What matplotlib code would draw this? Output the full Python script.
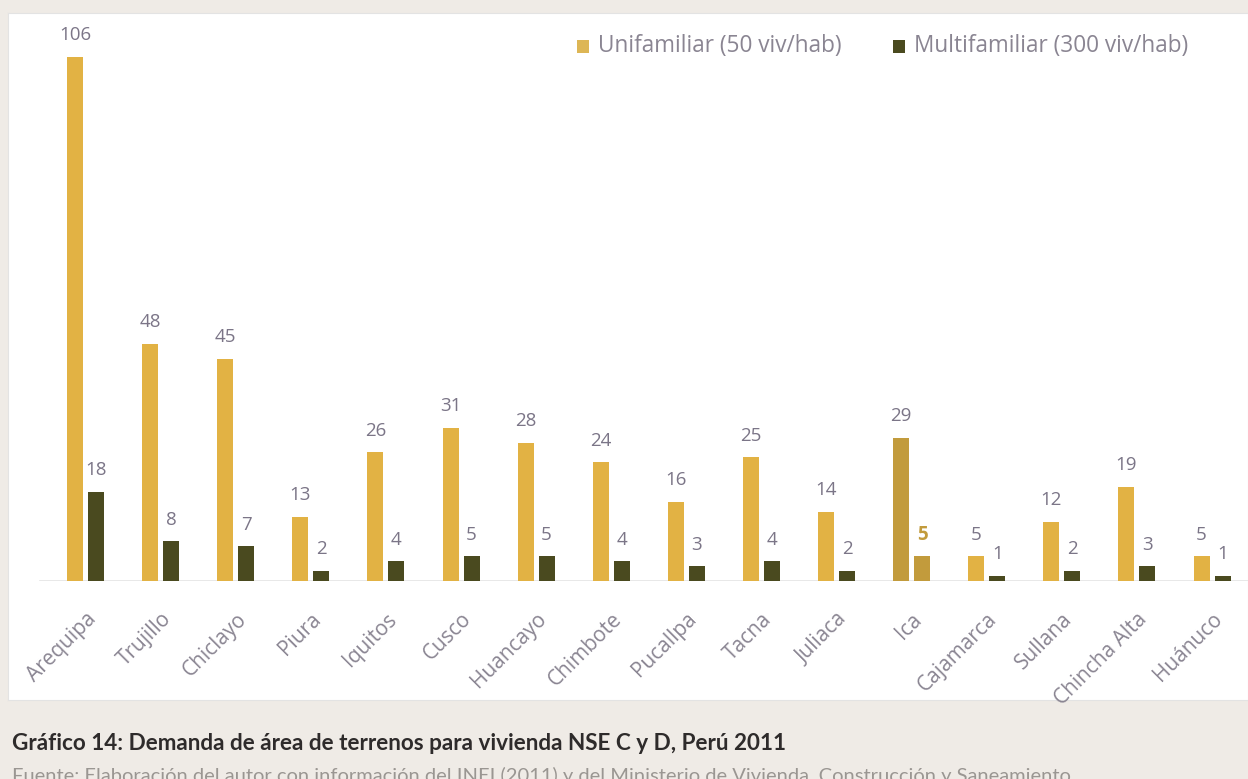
import matplotlib
matplotlib.use("Agg")
import matplotlib.pyplot as plt
from matplotlib.patches import Rectangle
import numpy as np

# ---- data -----------------------------------------------------------------
ciudades = ["Arequipa", "Trujillo", "Chiclayo", "Piura", "Iquitos", "Cusco",
            "Huancayo", "Chimbote", "Pucallpa", "Tacna", "Juliaca", "Ica",
            "Cajamarca", "Sullana", "Chincha Alta", "Huánuco"]
unifamiliar = [106, 48, 45, 13, 26, 31, 28, 24, 16, 25, 14, 29, 5, 12, 19, 5]
multifamiliar = [18, 8, 7, 2, 4, 5, 5, 4, 3, 4, 2, 5, 1, 2, 3, 1]
serie_uni = "Unifamiliar (50 viv/hab)"
serie_multi = "Multifamiliar (300 viv/hab)"
titulo = "Gráfico 14: Demanda de área de terrenos para vivienda NSE C y D, Perú 2011"
fuente = ("Fuente: Elaboración del autor con información del INEI (2011) y del "
          "Ministerio de Vivienda, Construcción y Saneamiento")

# ---- style ----------------------------------------------------------------
GOLD = "#E2B244"
OLIVE = "#4A4A1F"
ICA = "#C29B3C"
LABEL = "#7B7587"
TICK = "#8A8592"
W, H = 1248, 779

plt.rcParams["font.family"] = ["Open Sans", "DejaVu Sans"]

fig = plt.figure(figsize=(W / 100, H / 100), dpi=100)
fig.patch.set_facecolor("#EFEBE6")

# white chart panel (its own background axes, drawn first)
bg = fig.add_axes([8 / W, (H - 700) / H, (W - 8) / W, (700 - 13) / H], zorder=0)
bg.set_facecolor("white")
bg.set_xticks([])
bg.set_yticks([])
for s in bg.spines.values():
    s.set_color("#E3E3E3")

base_px = 581
ax = fig.add_axes([0, (H - base_px) / H, 1, (base_px - 13) / H], zorder=2)
ax.set_facecolor("none")
px_per_unit_x = 75.1
x0 = -85.5 / px_per_unit_x
ax.set_xlim(x0, x0 + W / px_per_unit_x)
ax.set_ylim(0, (base_px - 13) / 4.943)

x = np.arange(len(ciudades))
bw = 16 / px_per_unit_x
off = 10.5 / px_per_unit_x

uni_colors = [ICA if c == "Ica" else GOLD for c in ciudades]
multi_colors = [ICA if c == "Ica" else OLIVE for c in ciudades]

ax.bar(x - off, unifamiliar, width=bw, color=uni_colors, zorder=3)
ax.bar(x + off, multifamiliar, width=bw, color=multi_colors, zorder=3)

for xi, v in zip(x, unifamiliar):
    ax.annotate(str(v), (xi - off, v), xytext=(0, 12), textcoords="offset points",
                ha="center", va="baseline", fontsize=13.5, color=LABEL)
for xi, v, c in zip(x, multifamiliar, ciudades):
    is_ica = c == "Ica"
    ax.annotate(str(v), (xi + off, v), xytext=(0, 12), textcoords="offset points",
                ha="center", va="baseline", fontsize=13.5,
                color=ICA if is_ica else LABEL,
                fontweight="bold" if is_ica else "normal")

# baseline
ax.axhline(0, xmin=40 / W, xmax=1, color="#E4E4E4", linewidth=1.2, zorder=2)

for s in ax.spines.values():
    s.set_visible(False)
ax.set_yticks([])
ax.set_xticks(x)
ax.set_xticklabels(ciudades, rotation=45, ha="right", rotation_mode="anchor",
                   fontsize=15, color=TICK)
ax.tick_params(axis="x", length=0, pad=20)

# legend
def legend_item(px, label, color):
    cy = 46
    ax.add_patch(Rectangle((px / W, (H - cy - 6.5) / H), 12 / W, 13 / H,
                           transform=fig.transFigure, facecolor=color,
                           edgecolor="none", zorder=5, clip_on=False))
    fig.text((px + 21) / W, (H - cy) / H, label, ha="left", va="center",
             fontsize=16.3, color="#8A8592", zorder=5)

legend_item(577, serie_uni, "#DDB655")
legend_item(893, serie_multi, OLIVE)

# caption
fig.text(12 / W, (H - 750) / H, titulo, ha="left", va="baseline",
         fontsize=16.2, fontweight="bold", color="#2E2B2B",
         family=["Lato", "DejaVu Sans"])
fig.text(12 / W, (H - 782) / H, fuente, ha="left", va="baseline",
         fontsize=14.5, color="#9A9692", family=["Lato", "DejaVu Sans"])

fig.savefig("out.png", dpi=100, facecolor=fig.get_facecolor())
